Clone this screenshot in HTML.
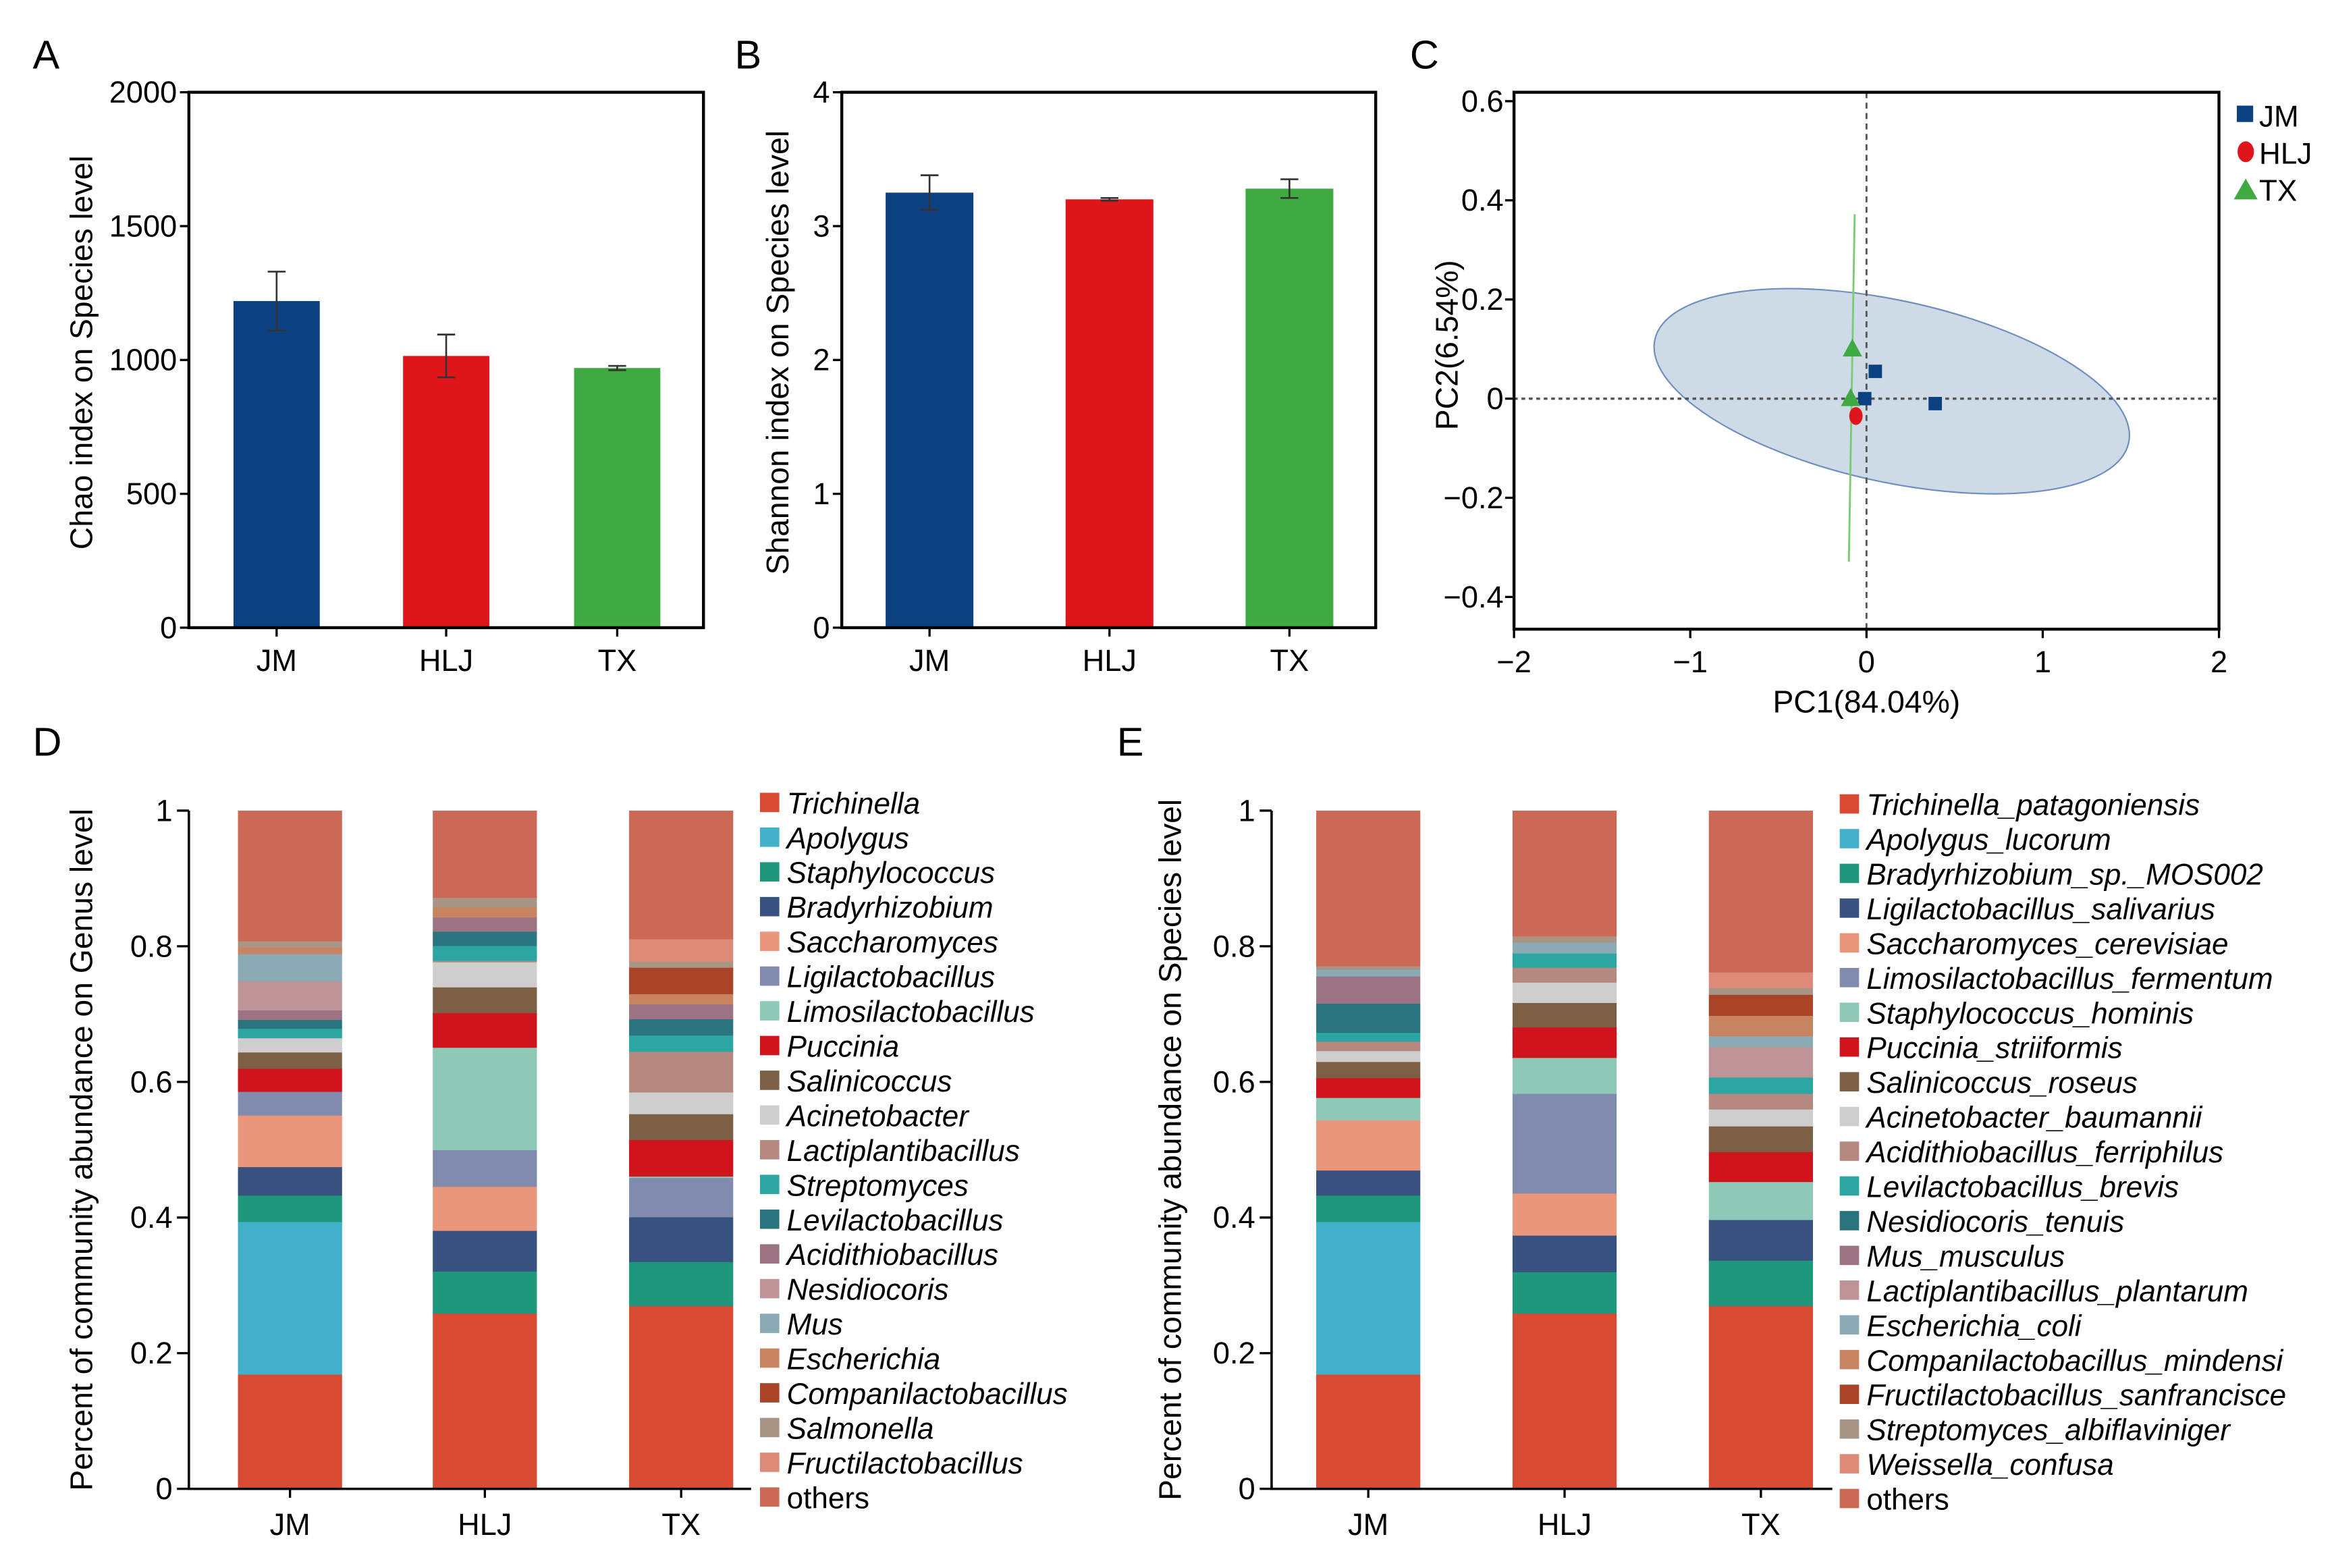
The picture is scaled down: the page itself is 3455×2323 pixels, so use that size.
<!DOCTYPE html>
<html><head><meta charset="utf-8"><style>
html,body{margin:0;padding:0;background:#fff}
svg{display:block;font-family:"Liberation Sans",Arial,sans-serif}
</style></head><body>
<svg id="fig" width="3455" height="2323" viewBox="0 0 1568 1054.2" xmlns="http://www.w3.org/2000/svg"></svg>
<script>
// ---- Panel A/B data ----
const groups = ["JM","HLJ","TX"];
const chaoValues = [1220, 1015, 970];
const chaoErrors = [110, 80, 8];
const chaoTicks = [0, 500, 1000, 1500, 2000];
const shannonValues = [3.25, 3.2, 3.28];
const shannonErrors = [0.13, 0.01, 0.07];
const shannonTicks = [0, 1, 2, 3, 4];
const groupColors = ["#0D4080", "#E0141B", "#3FAA42"];
// ---- Panel C data ----
const pcaX = [0.05, -0.01, 0.39, -0.06, -0.08, -0.09];
const pcaY = [0.055, 0.0, -0.01, -0.035, 0.1, 0.0];
const pcaGroup = ["JM","JM","JM","HLJ","TX","TX"];
const pcaXTicks = [-2, -1, 0, 1, 2];
const pcaYTicks = [-0.4, -0.2, 0, 0.2, 0.4, 0.6];
// ---- Panel D data ----
const genusNames = ["Trichinella","Apolygus","Staphylococcus","Bradyrhizobium","Saccharomyces","Ligilactobacillus","Limosilactobacillus","Puccinia","Salinicoccus","Acinetobacter","Lactiplantibacillus","Streptomyces","Levilactobacillus","Acidithiobacillus","Nesidiocoris","Mus","Escherichia","Companilactobacillus","Salmonella","Fructilactobacillus","others"];
const genusColors = ["#D94A33","#42B0C8","#1F977D","#37527F","#E9967A","#808BAD","#8EC9B8","#CF141C","#7C5F45","#CECECE","#B58880","#2BA6A2","#2A7480","#9B7382","#BD9396","#8AAAB5","#C88460","#A94428","#A89585","#DD8A78","#CB6956"];
const genusJM  = [.169,.225,.039,.042,.076,.035,0,.034,.024,.021,0,.014,.013,.014,.043,.040,.010,0,.009,0,.192];
const genusHLJ = [.259,0,.062,.060,.065,.054,.151,.051,.038,.037,.002,.022,.021,.021,0,0,.015,0,.014,0,.128];
const genusTX  = [.270,0,.065,.066,0,.058,.002,.054,.038,.032,.060,.024,.024,.022,0,0,.015,.039,.009,.033,.189];
// ---- Panel E data ----
const speciesNames = ["Trichinella_patagoniensis","Apolygus_lucorum","Bradyrhizobium_sp._MOS002","Ligilactobacillus_salivarius","Saccharomyces_cerevisiae","Limosilactobacillus_fermentum","Staphylococcus_hominis","Puccinia_striiformis","Salinicoccus_roseus","Acinetobacter_baumannii","Acidithiobacillus_ferriphilus","Levilactobacillus_brevis","Nesidiocoris_tenuis","Mus_musculus","Lactiplantibacillus_plantarum","Escherichia_coli","Companilactobacillus_mindensi","Fructilactobacillus_sanfrancisce","Streptomyces_albiflaviniger","Weissella_confusa","others"];
const speciesColors = ["#D94A33","#42B0C8","#1F977D","#37527F","#E9967A","#808BAD","#8EC9B8","#CF141C","#7C5F45","#CECECE","#B58880","#2BA6A2","#2A7480","#9B7382","#BD9396","#8AAAB5","#C88460","#A94428","#A89585","#DD8A78","#CB6956"];
const speciesJM  = [.169,.225,.039,.037,.074,0,.033,.029,.024,.016,.014,.013,.043,.040,0,.010,0,0,.005,0,.229];
const speciesHLJ = [.259,0,.061,.054,.062,.147,.053,.045,.036,.030,.022,.021,0,0,0,.016,0,0,.009,0,.185];
const speciesTX  = [.270,0,.067,.060,0,0,.056,.044,.038,.025,.023,.024,0,0,.045,.016,.030,.031,.010,.023,.238];
const stackTicks = [0, 0.2, 0.4, 0.6, 0.8, 1];
const stackTickLabels = ["0","0.2","0.4","0.6","0.8","1"];

const NS = "http://www.w3.org/2000/svg";
const svg = document.getElementById("fig");
function mk(tag, attrs, parent, txt){
  const e = document.createElementNS(NS, tag);
  for (const k in attrs) e.setAttribute(k, attrs[k]);
  if (txt !== undefined) e.textContent = txt;
  (parent || svg).appendChild(e);
  return e;
}
function lin(d0,d1,r0,r1){ return v => r0 + (v-d0)/(d1-d0)*(r1-r0); }
const TF = 20.5, XF = 20.5, TITF = 21, LEGF = 20;

function panelLetter(t,x,y){
  const e = mk("text",{x:x,y:y,"font-size":27},svg,t);
  
  
}
function yTitle(t,x,cy,name){
  const e = mk("text",{x:0,y:0,"font-size":TITF,"text-anchor":"middle",transform:`translate(${x},${cy}) rotate(-90)`},svg,t);
  
  
}

// ---- bar panel ----
function barPanel(id, L, R, T, B, maxV, ticks, vals, errs, centers, bw, title, titleX){
  const g = mk("g",{});
  
  
  const y = lin(0,maxV,B,T);
  vals.forEach((v,i)=>{
    const r = mk("rect",{x:centers[i]-bw/2,y:y(v),width:bw,height:B-y(v),fill:groupColors[i]},g);
    
    
    const eg = mk("path",{d:`M${centers[i]},${y(v+errs[i])}V${y(v-errs[i])}M${centers[i]-6},${y(v+errs[i])}h12M${centers[i]-6},${y(v-errs[i])}h12`,stroke:"#333","stroke-width":1.2,fill:"none"},g);
    
    
    const tl = mk("text",{x:centers[i],y:B+29,"font-size":XF,"text-anchor":"middle"},g,groups[i]);
    
    
    mk("line",{x1:centers[i],x2:centers[i],y1:B,y2:B+6,stroke:"#000","stroke-width":1.5},g);
  });
  const fr = mk("rect",{x:L,y:T,width:R-L,height:B-T,fill:"none",stroke:"#000","stroke-width":2},g);
  
  
  ticks.forEach(t=>{
    mk("line",{x1:L-6,x2:L,y1:y(t),y2:y(t),stroke:"#000","stroke-width":1.5},g);
    const tl = mk("text",{x:L-8,y:y(t)+7,"font-size":TF,"text-anchor":"end"},g,String(t));
    
    
  });
  yTitle(title, titleX, (T+B)/2-5, id+'-y-axis-title');
}
barPanel("chao",127,473,62,422,2000,chaoTicks,chaoValues,chaoErrors,[186,300,415],58,"Chao index on Species level",62);
barPanel("shannon",566,925,62,422,4,shannonTicks,shannonValues,shannonErrors,[625,746,867],59,"Shannon index on Species level",530);

// ---- PCA panel ----
(function(){
  const L=1018,R=1492,T=62,B=423;
  const x = lin(-2,2,L,R), y = lin(0,0.6,268,68);
  const g = mk("g",{});
  
  
  const el = mk("ellipse",{cx:1272,cy:263,rx:163,ry:61,transform:"rotate(12.3 1272 263)",fill:"#C7D3E3","fill-opacity":0.85,stroke:"#6F8FBF","stroke-width":1},g);
  
  
  const gl = mk("line",{x1:x(-0.067),y1:y(0.372),x2:x(-0.1),y2:y(-0.329),stroke:"#7CCB73","stroke-width":1.3},g);
  
  
  mk("line",{x1:L,x2:R,y1:y(0),y2:y(0),stroke:"#555","stroke-width":1.6,"stroke-dasharray":"2.5,2.5"},g);
  mk("line",{x1:x(0),x2:x(0),y1:T,y2:B,stroke:"#555","stroke-width":1.3,"stroke-dasharray":"4,3"},g);
  pcaX.forEach((px,i)=>{
    const cx=x(px), cy=y(pcaY[i]); let m;
    if(pcaGroup[i]==="JM") m = mk("rect",{x:cx-4.5,y:cy-4.5,width:9,height:9,fill:"#0D4080"},g);
    else if(pcaGroup[i]==="HLJ") m = mk("ellipse",{cx:cx,cy:cy,rx:4.5,ry:6,fill:"#E0141B"},g);
    else m = mk("path",{d:`M${cx},${cy-7}L${cx+6.5},${cy+5}L${cx-6.5},${cy+5}Z`,fill:"#3FAA42"},g);
    
    
  });
  const fr = mk("rect",{x:L,y:T,width:R-L,height:B-T,fill:"none",stroke:"#000","stroke-width":2},g);
  
  
  pcaXTicks.forEach(t=>{
    mk("line",{x1:x(t),x2:x(t),y1:B,y2:B+6,stroke:"#000","stroke-width":1.5},g);
    const tl = mk("text",{x:x(t),y:B+29,"font-size":XF,"text-anchor":"middle"},g,t<0?"\u2212"+(-t):String(t));
    
    
  });
  pcaYTicks.forEach(t=>{
    mk("line",{x1:L-6,x2:L,y1:y(t),y2:y(t),stroke:"#000","stroke-width":1.5},g);
    const s = t===0?"0":(t<0?"\u2212"+(-t).toFixed(1):t.toFixed(1));
    const tl = mk("text",{x:L-7,y:y(t)+7,"font-size":TF,"text-anchor":"end"},g,s);
    
    
  });
  const xt = mk("text",{x:x(0),y:479,"font-size":TITF,"text-anchor":"middle"},g,"PC1(84.04%)");
  
  
  yTitle("PC2(6.54%)",980,232,'pca-y-axis-title');
  // legend
  const lg = mk("g",{});
  
  
  const sq = mk("rect",{x:1504,y:71,width:11,height:11,fill:"#0D4080"},lg);
   
  const t1 = mk("text",{x:1519,y:85,"font-size":20},lg,"JM");
   
  const ci = mk("ellipse",{cx:1510,cy:102,rx:5.5,ry:7,fill:"#E0141B"},lg);
   
  const t2 = mk("text",{x:1519,y:110,"font-size":20},lg,"HLJ");
   
  const tr = mk("path",{d:"M1510,120L1518,134L1502,134Z",fill:"#3FAA42"},lg);
   
  const t3 = mk("text",{x:1519,y:135,"font-size":20},lg,"TX");
   
})();

// ---- stacked panels ----
function stackPanel(id, axisX, axisR, centers, bw, series, names, colors, title, titleX, legX, legY0){
  const T=545,B=1001;
  const y = lin(0,1,B,T);
  const g = mk("g",{});
  
  
  series.forEach((vals,i)=>{
    let acc=0;
    vals.forEach((v,k)=>{
      if(v<=0) return;
      const top = Math.min(acc+v,1);
      const r = mk("rect",{x:centers[i]-bw/2,y:y(top),width:bw,height:y(acc)-y(top)+0.3,fill:colors[k]},g);
      
      
      acc=top;
    });
    mk("line",{x1:centers[i],x2:centers[i],y1:B,y2:B+6,stroke:"#000","stroke-width":1.5},g);
    const tl = mk("text",{x:centers[i],y:B+31,"font-size":XF,"text-anchor":"middle"},g,groups[i]);
    
    
  });
  const ax = mk("path",{d:`M${axisX},${T}V${B}H${axisR}`,fill:"none",stroke:"#000","stroke-width":1.6},g);
  
  
  stackTicks.forEach((t,j)=>{
    mk("line",{x1:axisX-8,x2:axisX,y1:y(t),y2:y(t),stroke:"#000","stroke-width":1.5},g);
    const tl = mk("text",{x:axisX-11,y:y(t)+7,"font-size":TF,"text-anchor":"end"},g,stackTickLabels[j]);
    
    
  });
  yTitle(title,titleX,773,id+'-y-axis-title');
  const lg = mk("g",{});
  
  
  names.forEach((n,k)=>{
    const yy = legY0 + k*23.35;
    const sw = mk("rect",{x:legX,y:yy-7,width:13,height:13,fill:colors[k]},lg);
    
    
    const tt = mk("text",{x:legX+18,y:yy+7,"font-size":LEGF,"font-style":n==="others"?"normal":"italic"},lg,n);
    
    
  });
}
stackPanel("genus",127,505,[195,326,458],70,[genusJM,genusHLJ,genusTX],genusNames,genusColors,"Percent of community abundance on Genus level",62,511,540);
stackPanel("species",855,1232,[920,1052,1184],70,[speciesJM,speciesHLJ,speciesTX],speciesNames,speciesColors,"Percent of community abundance on Species level",794,1237,541);

panelLetter("A",22,46); panelLetter("B",494,46); panelLetter("C",948,46);
panelLetter("D",22,508); panelLetter("E",751,508);
</script>
</body></html>
